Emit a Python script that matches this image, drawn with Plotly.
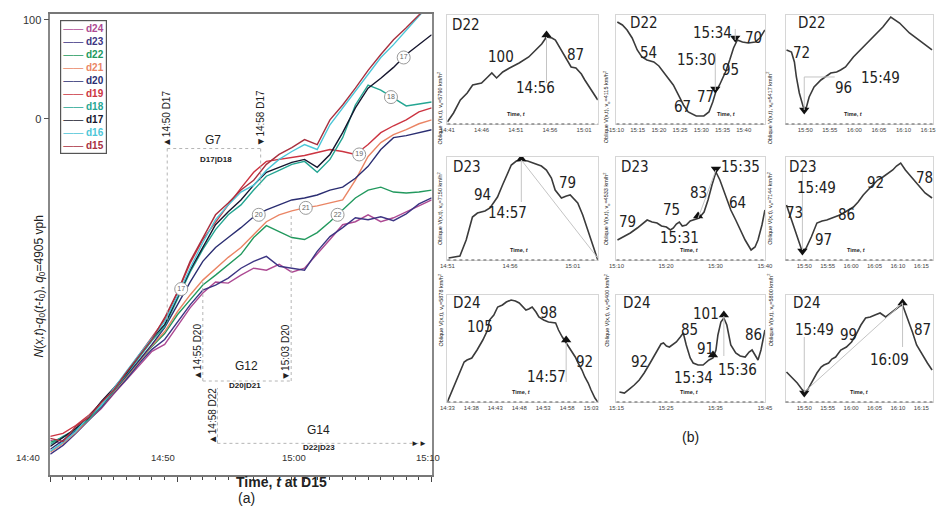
import plotly.graph_objects as go

# ===================== (a) main chart data =====================
# minutes after 14:40 (time t at D15)
main_minutes = [0, 1, 2, 3, 4, 5, 6, 7, 8, 9, 10, 11, 12, 13, 14, 15, 16, 17, 18, 19, 20,
                21, 22, 23, 24, 25, 26, 27, 28, 29, 30]
main_tick_vals = [0, 10, 20, 30]
main_tick_labels = ["14:40", "14:50", "15:00", "15:10"]
main_y_ticks = [0, 100]

d15 = [-323, -326, -311, -302, -287, -274, -256, -240, -223, -201, -175, -144, -120, -97, -85, -72,
       -62, -46, -36, -29, -21, -26, -1, 14, 31, 49, 65, 80, 92, 105, 115]
d16 = [-336, -327, -316, -301, -290, -272, -255, -238, -222, -205, -179, -151, -125, -102, -87, -74,
       -67, -52, -41, -33, -26, -31, -6, 11, 27, 44, 62, 75, 90, 104, 117]
d17 = [-331, -322, -313, -302, -286, -272, -257, -239, -222, -208, -181, -153, -130, -107, -94, -82,
       -67, -54, -49, -44, -41, -49, -36, -14, 11, 31, 41, 52, 65, 75, 85]
d18 = [-329, -321, -314, -304, -290, -275, -258, -241, -224, -210, -183, -155, -132, -112, -97, -87,
       -72, -58, -52, -46, -43, -54, -41, -19, 14, 34, 29, 21, 13, 15, 17]
d19 = [-321, -318, -310, -300, -287, -273, -256, -238, -221, -203, -176, -146, -122, -104, -87, -70,
       -54, -43, -41, -39, -37, -34, -31, -33, -36, -26, -14, -7, -1, 7, 11]
d20 = [-334, -325, -315, -303, -291, -275, -260, -244, -228, -211, -188, -165, -144, -130, -120, -110,
       -99, -92, -87, -82, -80, -77, -72, -69, -60, -48, -31, -19, -17, -14, -11]
d21 = [-337, -328, -317, -304, -291, -276, -261, -245, -229, -215, -195, -178, -163, -151, -140, -130,
       -117, -104, -97, -93, -90, -88, -85, -82, -62, -38, -24, -16, -11, -5, -1]
d22 = [-327, -322, -314, -303, -290, -276, -261, -245, -230, -217, -198, -183, -168, -158, -147, -137,
       -120, -108, -114, -120, -122, -115, -104, -92, -80, -72, -69, -74, -75, -74, -72]
d23 = [-339, -330, -318, -305, -292, -277, -263, -247, -233, -223, -205, -188, -173, -168, -161, -151,
       -144, -139, -149, -151, -153, -134, -119, -110, -100, -102, -99, -103, -96, -86, -80]
d24 = [-325, -328, -316, -305, -293, -278, -264, -249, -235, -228, -209, -191, -176, -165, -166, -158,
       -151, -153, -147, -155, -151, -137, -122, -107, -104, -97, -104, -100, -94, -88, -82]

series = {"d15": d15, "d16": d16, "d17": d17, "d18": d18, "d19": d19,
          "d20": d20, "d21": d21, "d22": d22, "d23": d23, "d24": d24}
legend_order = ["d24", "d23", "d22", "d21", "d20", "d19", "d18", "d17", "d16", "d15"]
colors = {"d24": "#ad4a93", "d23": "#3d3583", "d22": "#22995e", "d21": "#ea8565", "d20": "#2b2e72",
          "d19": "#cc3441", "d18": "#25a693", "d17": "#16162e", "d16": "#4cc6d8", "d15": "#a8303f"}

# circled detector tags on the curves
tag_text = ["17", "20", "21", "22", "19", "18", "17"]
tag_time = [10.3, 16.4, 20.1, 22.6, 24.3, 26.8, 27.8]
tag_value = [-172, -97, -90, -97, -36, 22, 62]

# ===================== (b) oblique curve panels =====================
# time in minutes after 14:00, value = oblique count (relative)
p11_time = [41.0, 41.9, 42.9, 43.9, 44.7, 46.0, 46.9, 47.5, 48.2, 49.1, 50.1, 51.5, 52.9, 53.9, 54.8,
            55.5, 56.3, 56.8, 57.5, 58.3, 59.1, 59.8, 60.6, 61.1, 62.3, 63.0]
p11_value = [2, 11, 24, 31, 39, 41, 47, 51, 46, 52, 56, 61, 67, 74, 80, 87, 86, 84, 76, 67, 57, 56, 50,
             44, 31, 24]
p12_time = [70.2, 71.4, 72.5, 73.7, 74.9, 76.0, 77.2, 78.8, 80.0, 81.1, 82.3, 83.4, 84.6, 85.8, 86.9,
            88.8, 90.6, 91.8, 92.7, 93.4, 94.3, 95.7, 96.7, 97.6, 98.5, 99.7, 101.1, 102.7, 103.8, 105.0]
p12_value = [102, 99, 94, 86, 74, 67, 64, 62, 58, 52, 46, 39, 29, 19, 12, 8, 8, 12, 22, 32, 39, 52, 64,
             76, 84, 82, 81, 82, 86, 94]
p13_time = [106.2, 107.2, 107.8, 108.2, 108.8, 109.6, 110.2, 110.8, 111.8, 113.2, 115.2, 116.4, 117.2,
            118.2, 119.8, 121.8, 123.8, 125.8, 127.4, 129.2, 131.2, 133.2, 135.8]
p13_value = [74, 72, 62, 47, 31, 17, 16, 27, 37, 44, 51, 52, 54, 57, 67, 77, 87, 97, 107, 101, 91, 84, 74]
p21_time = [51.1, 52.0, 52.5, 53.0, 53.4, 54.0, 54.4, 55.0, 55.4, 55.7, 56.1, 56.5, 56.9, 57.4, 57.9,
            58.5, 58.9, 59.3, 59.6, 60.1, 60.5, 60.8, 61.4, 61.8, 62.2, 62.7, 63.0]
p21_value = [2, 4, 20, 43, 47, 49, 52, 63, 75, 83, 95, 99, 100, 99, 97, 94, 90, 82, 70, 62, 64, 65, 57,
             45, 30, 10, 0]
p22_time = [70.2, 71.6, 72.8, 74.2, 76.2, 77.2, 78.2, 79.1, 80.1, 80.9, 81.5, 82.1, 82.7, 83.3, 84.1,
            84.9, 85.5, 86.7, 87.7, 88.5, 89.3, 90.1, 90.9, 92.1, 93.1, 94.1, 95.0, 96.0, 97.2, 98.0,
            98.6, 99.4, 100.0]
p22_value = [20, 24, 27, 32, 40, 38, 37, 34, 33, 30, 32, 36, 38, 34, 35, 39, 40, 42, 48, 60, 75, 88, 80,
             63, 50, 40, 30, 20, 10, 13, 20, 35, 50]
p23_time = [106.2, 107.3, 108.5, 109.6, 110.4, 111.5, 112.7, 113.8, 114.8, 115.9, 116.7, 117.6, 118.4,
            119.4, 120.5, 121.5, 122.6, 123.6, 124.7, 125.7, 126.8, 127.8, 128.9, 129.7, 130.6, 131.6,
            132.7, 133.7, 134.8, 135.8, 137.3]
p23_value = [55, 40, 23, 8, 12, 23, 37, 39, 40, 42, 43, 45, 47, 50, 53, 58, 65, 70, 75, 80, 83, 86, 90,
             94, 97, 90, 84, 78, 72, 67, 62]
p31_time = [33.0, 33.6, 34.2, 35.1, 35.7, 36.5, 37.1, 38.1, 39.2, 39.8, 40.4, 41.4, 41.8, 42.7, 43.5,
            44.5, 45.3, 46.3, 47.2, 48.0, 48.8, 49.4, 50.0, 50.7, 51.5, 52.1, 53.1, 54.1, 55.6, 56.2,
            57.0, 57.8, 58.9, 59.7, 60.3, 61.1, 61.7, 62.4, 63.0, 63.8, 64.4]
p31_value = [0, 7, 15, 25, 32, 40, 42, 44, 52, 57, 62, 72, 82, 87, 95, 97, 100, 102, 101, 99, 95, 92, 93,
             95, 90, 85, 82, 80, 79, 72, 65, 59, 52, 45, 39, 32, 25, 19, 12, 4, 0]
p32_time = [75.6, 76.6, 77.6, 78.6, 79.6, 80.6, 81.8, 83.2, 84.0, 84.5, 85.1, 85.7, 86.5, 87.1, 87.9,
            88.5, 89.1, 89.9, 90.5, 91.5, 92.5, 93.1, 93.7, 94.5, 95.1, 95.5, 96.1, 96.7, 97.3, 98.1,
            99.1, 100.0, 101.0, 101.8, 102.4, 103.0, 103.6, 104.2, 104.6, 105.0]
p32_value = [10, 9, 13, 17, 22, 29, 39, 52, 58, 59, 56, 55, 58, 60, 65, 69, 57, 44, 39, 37, 37, 40, 42,
             44, 52, 67, 80, 84, 77, 57, 49, 46, 45, 50, 52, 47, 42, 52, 62, 72]
p33_time = [106.2, 107.3, 108.5, 109.6, 110.2, 110.8, 111.5, 112.7, 113.6, 114.2, 115.2, 115.9, 116.7,
            117.8, 119.0, 120.1, 121.0, 122.1, 123.1, 124.1, 125.1, 126.2, 127.4, 128.5, 129.5, 130.4,
            131.0, 131.8, 132.5, 133.1, 134.0, 134.6, 135.4, 136.3, 137.3]
p33_value = [30, 25, 19, 12, 10, 13, 19, 29, 35, 37, 39, 43, 45, 52, 55, 60, 67, 77, 84, 85, 87, 89, 85,
             89, 92, 96, 97, 87, 77, 70, 57, 52, 45, 39, 32]

# peak / trough markers
p11_mk_time, p11_mk_value, p11_mk_symbol = [55.5], [89], ["triangle-up"]
p12_mk_time, p12_mk_value, p12_mk_symbol = [93.3, 98.0], [35, 86], ["triangle-down", "triangle-down"]
p13_mk_time, p13_mk_value, p13_mk_symbol = [109.8], [14], ["triangle-down"]
p21_mk_time, p21_mk_value, p21_mk_symbol = [56.9], [101], ["triangle-up"]
p22_mk_time, p22_mk_value, p22_mk_symbol = [86.5, 90.1], [44, 91], ["triangle-up", "triangle-down"]
p23_mk_time, p23_mk_value, p23_mk_symbol = [109.6], [9], ["triangle-down"]
p31_mk_time, p31_mk_value, p31_mk_symbol = [57.8], [62], ["triangle-up"]
p32_mk_time, p32_mk_value, p32_mk_symbol = [94.5, 96.7], [47, 87], ["triangle-up", "triangle-up"]
p33_mk_time, p33_mk_value, p33_mk_symbol = [110.0, 131.0], [9, 99], ["triangle-down", "triangle-up"]

# tick labels
p11_ticks, p11_tick_labels = [41, 46, 51, 56, 61], ["14:41", "14:46", "14:51", "14:56", "15:01"]
p12_ticks = [70, 75, 80, 85, 90, 95, 100]
p12_tick_labels = ["15:10", "15:15", "15:20", "15:25", "15:30", "15:35", "15:40"]
p13_ticks = [110, 115, 120, 125, 130, 135]
p13_tick_labels = ["15:50", "15:55", "16:00", "16:05", "16:10", "16:15"]
p21_ticks, p21_tick_labels = [51, 56, 61], ["14:51", "14:56", "15:01"]
p22_ticks, p22_tick_labels = [70, 80, 90, 100], ["15:10", "15:20", "15:30", "15:40"]
p23_ticks = [110, 115, 120, 125, 130, 135]
p23_tick_labels = ["15:50", "15:55", "16:00", "16:05", "16:10", "16:15"]
p31_ticks = [33, 38, 43, 48, 53, 58, 63]
p31_tick_labels = ["14:33", "14:38", "14:43", "14:48", "14:53", "14:58", "15:03"]
p32_ticks, p32_tick_labels = [75, 85, 95, 105], ["15:15", "15:25", "15:35", "15:45"]
p33_ticks = [110, 115, 120, 125, 130, 135]
p33_tick_labels = ["15:50", "15:55", "16:00", "16:05", "16:10", "16:15"]

# text labels inside panels (text, time, value)
p11_labels = [("D22", 43.7, 99), ("100", 48.9, 67), ("87", 59.8, 69), ("14:56", 53.9, 36)]
p12_labels = [("D22", 76.5, 101), ("54", 77.6, 71), ("67", 85.6, 17), ("77", 91.0, 27),
              ("15:30", 88.8, 64), ("95", 96.9, 54), ("15:34", 92.7, 91), ("70", 102.2, 86)]
p13_labels = [("D22", 111.4, 101), ("72", 109.2, 71), ("96", 117.8, 36), ("15:49", 125.4, 46)]
p21_labels = [("D23", 52.6, 93), ("94", 53.8, 65), ("79", 60.6, 77), ("14:57", 55.8, 47)]
p22_labels = [("D23", 73.8, 93), ("79", 72.2, 38), ("75", 81.1, 50), ("83", 86.5, 67),
              ("64", 94.5, 57), ("15:31", 82.7, 22), ("15:35", 95.0, 93)]
p23_labels = [("D23", 109.8, 93), ("15:49", 112.7, 72), ("73", 107.9, 47), ("97", 114.2, 20),
              ("86", 119.0, 45), ("92", 125.3, 77), ("78", 135.6, 82)]
p31_labels = [("D24", 37.1, 99), ("105", 39.8, 75), ("98", 54.1, 89), ("92", 61.7, 40),
              ("14:57", 53.7, 25)]
p32_labels = [("D24", 79.2, 99), ("92", 79.6, 40), ("85", 89.8, 72), ("101", 93.1, 88),
              ("91", 93.0, 53), ("15:34", 90.5, 24), ("15:36", 99.5, 32), ("86", 102.6, 67)]
p33_labels = [("D24", 110.6, 99), ("15:49", 112.1, 72), ("99", 119.4, 67), ("16:09", 128.3, 42),
              ("87", 135.2, 72)]

p_vo = ["5790", "4115", "5417", "7150", "4533", "7144", "5878", "5400", "5800"]

# ===================== layout helpers =====================
col_domains = [[0.475, 0.6376], [0.6578, 0.8183], [0.8406, 1.0]]
row_domains = [[0.7602, 0.9710], [0.4971, 0.6963], [0.2224, 0.4294]]
row_tops = [109, 103, 107]
title_x = [0.4676, 0.6472, 0.830]
row_mid = [0.8656, 0.5967, 0.3259]
time_caption_x = [0.46, 0.82, 0.46, 0.48, 0.49, 0.48, 0.49, 0.49, 0.50]

panels = [
    dict(t=p11_time, v=p11_value, rng=[41, 63], tv=p11_ticks, tt=p11_tick_labels, lab=p11_labels,
         mk=(p11_mk_time, p11_mk_value, p11_mk_symbol),
         guides=[(55.5, 87, 55.5, 41)]),
    dict(t=p12_time, v=p12_value, rng=[70, 105], tv=p12_ticks, tt=p12_tick_labels, lab=p12_labels,
         mk=(p12_mk_time, p12_mk_value, p12_mk_symbol),
         guides=[(93.3, 34, 93.3, 71), (98.0, 84, 98.0, 95)]),
    dict(t=p13_time, v=p13_value, rng=[106, 136], tv=p13_ticks, tt=p13_tick_labels, lab=p13_labels,
         mk=(p13_mk_time, p13_mk_value, p13_mk_symbol),
         guides=[(109.8, 14, 109.8, 47), (109.8, 47, 116.0, 47)]),
    dict(t=p21_time, v=p21_value, rng=[51, 63], tv=p21_ticks, tt=p21_tick_labels, lab=p21_labels,
         mk=(p21_mk_time, p21_mk_value, p21_mk_symbol),
         guides=[(56.9, 100, 56.9, 58), (56.9, 100, 63.0, 2)]),
    dict(t=p22_time, v=p22_value, rng=[70, 100], tv=p22_ticks, tt=p22_tick_labels, lab=p22_labels,
         mk=(p22_mk_time, p22_mk_value, p22_mk_symbol),
         guides=[(86.5, 42, 90.1, 90)]),
    dict(t=p23_time, v=p23_value, rng=[106, 137.5], tv=p23_ticks, tt=p23_tick_labels, lab=p23_labels,
         mk=(p23_mk_time, p23_mk_value, p23_mk_symbol),
         guides=[(109.6, 10, 109.6, 90)]),
    dict(t=p31_time, v=p31_value, rng=[33, 64.4], tv=p31_ticks, tt=p31_tick_labels, lab=p31_labels,
         mk=(p31_mk_time, p31_mk_value, p31_mk_symbol),
         guides=[(57.8, 59, 57.8, 20)]),
    dict(t=p32_time, v=p32_value, rng=[75, 105], tv=p32_ticks, tt=p32_tick_labels, lab=p32_labels,
         mk=(p32_mk_time, p32_mk_value, p32_mk_symbol),
         guides=[(96.7, 86, 96.7, 46)]),
    dict(t=p33_time, v=p33_value, rng=[106, 137.5], tv=p33_ticks, tt=p33_tick_labels, lab=p33_labels,
         mk=(p33_mk_time, p33_mk_value, p33_mk_symbol),
         guides=[(110.0, 10, 110.0, 65), (131.0, 99, 131.0, 55), (110.0, 10, 131.0, 99)]),
]

NARROW = "Liberation Sans Narrow, Arial Narrow, DejaVu Sans Condensed, Liberation Sans, sans-serif"
SANS = "Liberation Sans, Arial, sans-serif"

fig = go.Figure()

# ---------- main chart traces ----------
for name in legend_order:
    fig.add_trace(go.Scatter(x=main_minutes, y=series[name], mode="lines", name=name,
                             line=dict(color=colors[name], width=1.4),
                             xaxis="x", yaxis="y", showlegend=False, hoverinfo="skip"))

fig.add_trace(go.Scatter(x=tag_time, y=tag_value, mode="markers+text", text=tag_text,
                         textposition="middle center", textfont=dict(size=7, color="#666"),
                         marker=dict(symbol="circle", size=13, color="white",
                                     line=dict(color="#9a9a9a", width=1)),
                         xaxis="x", yaxis="y", showlegend=False, hoverinfo="skip"))

layout = dict(
    width=941, height=517, margin=dict(l=0, r=0, t=0, b=0),
    paper_bgcolor="white", plot_bgcolor="white", showlegend=False,
    font=dict(family=SANS, color="#222"),
    xaxis=dict(domain=[0.0457, 0.458], range=[0, 30], tickvals=main_tick_vals, showticklabels=False,
               ticks="outside", ticklen=5, tickcolor="#444",
               minor=dict(ticks="outside", ticklen=3, dtick=1, tick0=0, tickcolor="#444"),
               showline=True, linecolor="#777", linewidth=1.5, mirror=True,
               showgrid=False, zeroline=False, anchor="y"),
    yaxis=dict(domain=[0.0812, 0.973], range=[-360, 106], tickvals=main_y_ticks,
               ticks="outside", ticklen=5, tickcolor="#555", tickfont=dict(size=11, color="#333"),
               showline=True, linecolor="#888", linewidth=1.5, mirror=True,
               showgrid=False, zeroline=False, anchor="x"),
)

shapes = []
annotations = []

# ---------- panels ----------
for i, p in enumerate(panels):
    k = i + 2
    r, c = divmod(i, 3)
    xa, ya = f"x{k}", f"y{k}"
    layout[f"xaxis{k}"] = dict(domain=col_domains[c], range=p["rng"], anchor=ya,
                               tickvals=p["tv"], ticktext=p["tt"], ticks="", ticklen=0,
                               tickfont=dict(size=6, color="#444"),
                               showline=True, linecolor="#d6d6d6", linewidth=1, mirror=True,
                               showgrid=False, zeroline=False)
    layout[f"yaxis{k}"] = dict(domain=row_domains[r], range=[0, row_tops[r]], anchor=xa,
                               showticklabels=False, ticks="",
                               showline=True, linecolor="#d6d6d6", linewidth=1, mirror=True,
                               showgrid=False, zeroline=False)
    for (t0, v0, t1, v1) in p["guides"]:
        shapes.append(dict(type="line", xref=xa, yref=ya, x0=t0, y0=v0, x1=t1, y1=v1,
                           line=dict(color="#c4c4c4", width=1)))
    shapes.append(dict(type="line", xref=f"{xa} domain", yref=f"{ya} domain", x0=0, x1=1, y0=0, y1=0,
                       line=dict(color="#8a8a8a", width=1.5, dash="dot")))
    fig.add_trace(go.Scatter(x=p["t"], y=p["v"], mode="lines", line=dict(color="#3b3b3b", width=1.6),
                             xaxis=xa, yaxis=ya, showlegend=False, hoverinfo="skip"))
    mt, mv, ms = p["mk"]
    fig.add_trace(go.Scatter(x=mt, y=mv, mode="markers",
                             marker=dict(symbol=ms, size=9, color="#111"),
                             xaxis=xa, yaxis=ya, showlegend=False, hoverinfo="skip"))
    for (txt, t, v) in p["lab"]:
        annotations.append(dict(text=txt, x=t, y=v, xref=xa, yref=ya, showarrow=False,
                                font=dict(family=NARROW, size=15, color="#222")))
    annotations.append(dict(text="<b>Time, <i>t</i></b>", x=time_caption_x[i], y=0.05,
                            xref=f"{xa} domain", yref=f"{ya} domain", showarrow=False,
                            yanchor="bottom", font=dict(size=5.5, color="#222")))
    annotations.append(dict(text=f"Oblique V(x,t), v<sub>o</sub>={p_vo[i]} km/h<sup>2</sup>",
                            x=title_x[c], y=row_mid[r], xref="paper", yref="paper",
                            textangle=-90, showarrow=False, font=dict(size=5.5, color="#222")))

# ---------- main chart decorations ----------
bracket_lines = [
    (9.2, -30, 16.55, -30), (9.2, -30, 9.2, -205), (16.55, -30, 16.55, -67),
    (12.0, -265, 18.95, -265), (12.0, -265, 12.0, -165), (18.95, -265, 18.95, -95),
    (13.15, -328, 29.3, -328), (13.15, -328, 13.15, -272),
]
for (t0, v0, t1, v1) in bracket_lines:
    shapes.append(dict(type="line", xref="x", yref="y", x0=t0, y0=v0, x1=t1, y1=v1,
                       line=dict(color="#b5b5b5", width=1, dash="dot")))

main_text = [
    ("▲14:50 D17", 9.2, 0, 10, -90), ("▼14:58 D17", 16.55, 0, 10, -90),
    ("G7", 12.8, -21, 12, 0), ("<b>D17|D18</b>", 13.0, -41, 8, 0),
    ("▲14:55 D20", 11.6, -236, 10, -90), ("▼15:03 D20", 18.5, -236, 10, -90),
    ("G12", 15.4, -250, 12, 0), ("<b>D20|D21</b>", 15.3, -270, 8, 0),
    ("▲14:58 D22", 12.76, -300, 10, -90),
    ("G14", 21.1, -314, 12, 0), ("<b>D22|D23</b>", 21.1, -332, 8, 0),
    ("►►", 29.0, -328, 8, 0),
]
for (txt, t, v, sz, ang) in main_text:
    annotations.append(dict(text=txt, x=t, y=v, xref="x", yref="y", showarrow=False, textangle=ang,
                            font=dict(size=sz, color="#222")))

# x tick labels (drawn above the axis line, as in the original)
tick_shift = [-8, 0, 3, 10]
for val, lab, sh in zip(main_tick_vals, main_tick_labels, tick_shift):
    annotations.append(dict(text=lab, x=val, y=0.1006, xref="x", yref="paper", xanchor="right",
                            xshift=sh, showarrow=False, font=dict(size=9.5, color="#333")))

# legend box
legend_text = "<br>".join(
    f"<span style='color:{colors[n]}'>——</span> <span style='color:{colors[n]}'><b>{n}</b></span>"
    for n in legend_order)
annotations.append(dict(text=legend_text, x=0.0563, y=0.961, xref="paper", yref="paper",
                        xanchor="left", yanchor="top", align="left", showarrow=False,
                        bordercolor="#555", borderwidth=1.2, borderpad=2, bgcolor="white",
                        font=dict(size=10)))

annotations.append(dict(
    text="<i>N</i>(<i>x,t</i>)-<i>q</i><sub>0</sub>(<i>t</i>-<i>t</i><sub>0</sub>), "
         "<i>q</i><sub>0</sub>=4905 vph",
    x=0.0234, y=0.445, xref="paper", yref="paper", textangle=-90, showarrow=False,
    font=dict(size=12, color="#222")))
annotations.append(dict(text="<b>Time, <i>t</i> at D15</b>", x=0.2444, y=0.048, xref="paper",
                        yref="paper", showarrow=False, font=dict(size=14, color="#222")))
annotations.append(dict(text="(a)", x=0.2465, y=0.018, xref="paper", yref="paper",
                        showarrow=False, font=dict(size=14, color="#222")))
annotations.append(dict(text="(b)", x=0.749, y=0.1354, xref="paper", yref="paper",
                        showarrow=False, font=dict(size=14, color="#222")))

layout["shapes"] = shapes
layout["annotations"] = annotations
fig.update_layout(**layout)

fig.write_html("out.html", config={"displayModeBar": False},
               post_script="document.body.style.margin='0px';")
